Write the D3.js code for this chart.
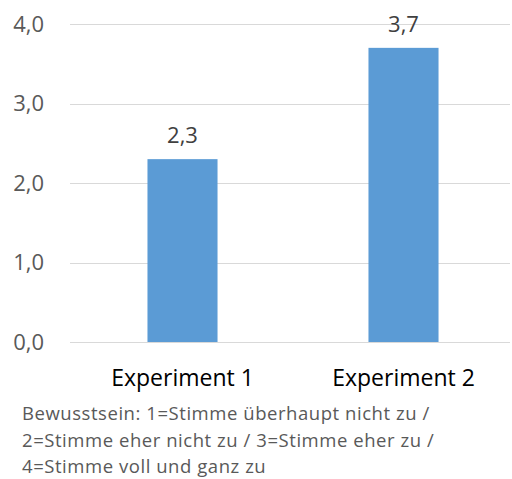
<!DOCTYPE html>
<html>
<head>
<meta charset="utf-8">
<script src="https://cdn.jsdelivr.net/npm/d3@7"></script>
<style>
  html, body { margin: 0; padding: 0; background: #fff; }
  svg { display: block; }
</style>
</head>
<body>
<svg id="chart" width="512" height="479"></svg>
<script>
// Mean awareness score per experiment
const categories = ["Experiment 1", "Experiment 2"];
const values = [2.3, 3.7];
const yTicks = [0, 1, 2, 3, 4];
const noteLines = [
  "Bewusstsein: 1=Stimme überhaupt nicht zu /",
  "2=Stimme eher nicht zu / 3=Stimme eher zu /",
  "4=Stimme voll und ganz zu"
];

const svg = d3.select("#chart");
const font = "'Open Sans', 'Noto Sans', sans-serif";
const fmt = v => d3.format(".1f")(v).replace(".", ",");

const y = d3.scaleLinear().domain([0, 4]).range([342, 24]);
const x = d3.scaleBand()
  .domain(categories)
  .range([72, 514])
  .paddingInner(0.683)
  .paddingOuter(0.3415);

// Horizontal gridlines
svg.append("g")
  .selectAll("line")
  .data(yTicks)
  .join("line")
  .attr("x1", 70)
  .attr("x2", 510)
  .attr("y1", d => Math.round(y(d)) + 0.5)
  .attr("y2", d => Math.round(y(d)) + 0.5)
  .attr("stroke", "#d9d9d9")
  .attr("stroke-width", 1);

// Y axis labels
const yAxis = svg.append("g")
  .attr("transform", "translate(44,0)")
  .call(d3.axisLeft(y).tickValues(yTicks).tickFormat(fmt).tickSize(0).tickPadding(0));
yAxis.select(".domain").remove();
yAxis.selectAll("text")
  .attr("font-family", font)
  .attr("font-size", 22)
  .attr("fill", "#595959");

// Bars
svg.append("g")
  .selectAll("rect")
  .data(values)
  .join("rect")
  .attr("x", (d, i) => x(categories[i]))
  .attr("width", x.bandwidth())
  .attr("y", d => y(d))
  .attr("height", d => y(0) - y(d))
  .attr("fill", "#5b9bd5");

// Value labels
svg.append("g")
  .selectAll("text")
  .data(values)
  .join("text")
  .attr("x", (d, i) => x(categories[i]) + x.bandwidth() / 2)
  .attr("y", d => y(d) - 16)
  .attr("text-anchor", "middle")
  .attr("font-family", font)
  .attr("font-size", 22)
  .attr("fill", "#404040")
  .text(fmt);

// Category axis labels
const xAxis = svg.append("g")
  .attr("transform", "translate(0,342)")
  .call(d3.axisBottom(x).tickSize(0).tickPadding(0));
xAxis.select(".domain").remove();
xAxis.selectAll("text")
  .attr("font-family", font)
  .attr("font-size", 23)
  .attr("fill", "#000")
  .attr("dy", null)
  .attr("y", 44);

// Scale description
svg.append("g")
  .selectAll("text")
  .data(noteLines)
  .join("text")
  .attr("x", 22)
  .attr("y", (d, i) => 420 + i * 26.5)
  .attr("font-family", font)
  .attr("font-size", 18.5)
  .attr("letter-spacing", 0.55)
  .attr("fill", "#595959")
  .text(d => d);
</script>
</body>
</html>
